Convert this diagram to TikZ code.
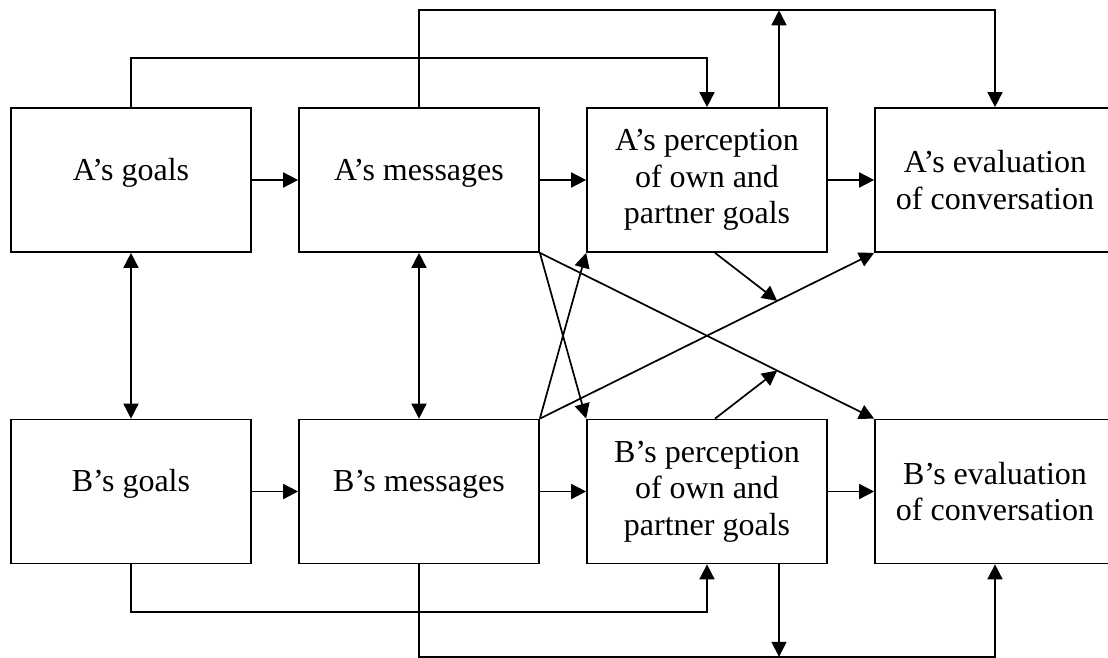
\documentclass[tikz,border=0pt]{standalone}
\usepackage{fontspec}
\setmainfont{Liberation Serif}
\usetikzlibrary{arrows.meta,calc}

\begin{document}
\begin{tikzpicture}[
    x=1pt, y=-1pt,
    every node/.style={font=\fontsize{32}{36.6}\selectfont},
    boite/.style={draw, line width=1.7pt, minimum width=240pt, minimum height=144pt, inner sep=0pt, align=center},
    ligne/.style={text height=12pt, text depth=12pt},
    fleche/.style={draw, line width=1.7pt, -{Triangle[length=15pt,width=15pt]}},
    fleches/.style={draw, line width=1.7pt, {Triangle[length=15pt,width=15pt]}-{Triangle[length=15pt,width=15pt]}},
]
\useasboundingbox (0,0) rectangle (1108,658);

% Premiere ligne (A)
\node[boite, ligne] (ag) at (131,180) {A’s goals};
\node[boite, ligne] (am) at (419,180) {A’s messages};
\node[boite] (ap) at (707,180) {A’s perception\\of own and\\partner goals};
\node[boite] (ae) at (995,180) {A’s evaluation\\of conversation};

% Deuxieme ligne (B)
\node[boite, ligne] (bg) at (131,491.5) {B’s goals};
\node[boite, ligne] (bm) at (419,491.5) {B’s messages};
\node[boite] (bp) at (707,491.5) {B’s perception\\of own and\\partner goals};
\node[boite] (be) at (995,491.5) {B’s evaluation\\of conversation};

% Points de passage
\coordinate (h1) at (131,58.3);
\coordinate (h2) at (419,10.3);
\coordinate (b1) at (131,612.3);
\coordinate (b2) at (419,656.8);
\coordinate (apn) at ([xshift=72pt]ap.north);
\coordinate (bps) at ([xshift=72pt]bp.south);

% Fleches horizontales
\draw[fleche] (ag.east) -- (am.west);
\draw[fleche] (am.east) -- (ap.west);
\draw[fleche] (ap.east) -- (ae.west);
\draw[fleche] (bg.east) -- (bm.west);
\draw[fleche] (bm.east) -- (bp.west);
\draw[fleche] (bp.east) -- (be.west);

% Fleches verticales
\draw[fleches] (ag.south) -- (bg.north);
\draw[fleches] (am.south) -- (bm.north);

% Liaisons du haut
\draw[fleche] (ag.north) -- (h1) -| (ap.north);
\draw[fleche] (am.north) -- (h2) -| (ae.north);
\draw[fleche] (apn) -- (apn |- h2);

% Liaisons du bas
\draw[fleche] (bg.south) -- (b1) -| (bp.south);
\draw[fleche] (bm.south) -- (b2) -| (be.south);
\draw[fleche] (bps) -- (bps |- b2);

% Diagonales
\draw[fleche] (am.south east) -- (bp.north west);
\draw[fleche] (am.south east) -- (be.north west);
\draw[fleche] (bm.north east) -- (ap.south west);
\draw[fleche] (bm.north east) -- (ae.south west);
\draw[fleche] ([xshift=8pt]ap.south) -- ($(bm.north east)!0.71!(ae.south west)$);
\draw[fleche] ([xshift=8pt]bp.north) -- ($(am.south east)!0.71!(be.north west)$);

\end{tikzpicture}
\end{document}
